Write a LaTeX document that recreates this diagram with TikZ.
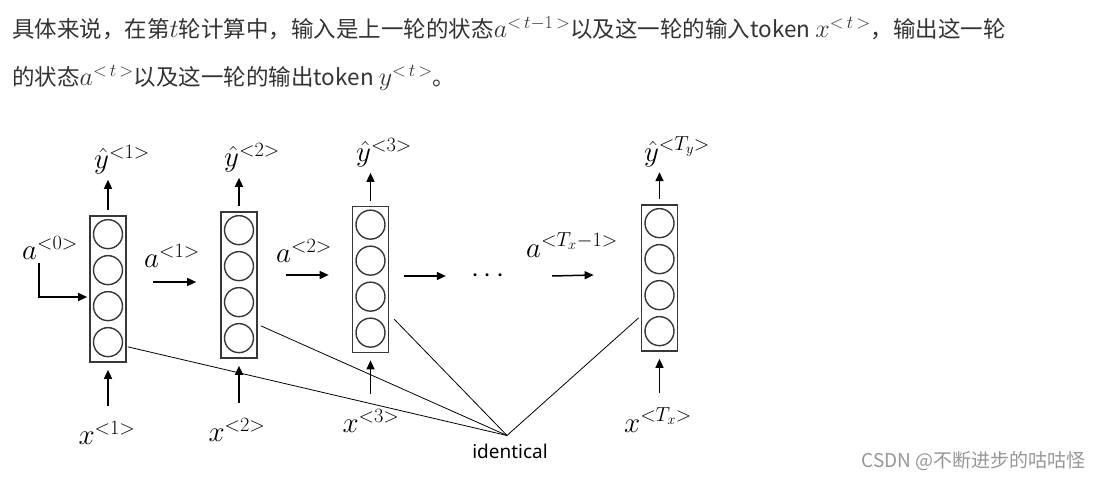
\RequirePackage{fix-cm}
\documentclass[tikz,border=0pt]{standalone}
\usepackage{fontspec}
\setmainfont{Noto Sans}
\newfontfamily\cjk{Noto Sans CJK SC}
\usetikzlibrary{arrows.meta, positioning, calc}
\definecolor{inkgray}{RGB}{55, 55, 55}
\definecolor{markgray}{RGB}{150, 150, 150}
\newcommand{\hm}[1]{{\fontsize{26}{28}\selectfont$#1$}}

\begin{document}
\begin{tikzpicture}[x=1pt, y=-1pt,
  every node/.style={inner sep=0pt},
  cell/.style={draw=inkgray, line width=1.7pt, minimum width=36pt, minimum height=146pt},
  unit/.style={circle, draw=inkgray, line width=1.4pt, minimum size=29pt},
  lbl/.style={font=\fontsize{29}{32}\selectfont},
  arr/.style={-{Triangle[length=9pt,width=8pt]}, line width=1.5pt},
  tie/.style={line width=0.8pt}]

  \useasboundingbox (0,0) rectangle (1101,481);

  % ---------- header text ----------
  \node[anchor=base west, font=\cjk\fontsize{22.5}{26}\selectfont, text=black!80] (line1) at (12,38)
    {具体来说，在第\hm{t}轮计算中，输入是上一轮的状态\hm{a^{<\,t-1\,>}}以及这一轮的输入token \hm{x^{<\,t\,>}}，输出这一轮};
  \node[anchor=base west, font=\cjk\fontsize{22.5}{26}\selectfont, text=black!80] (line2) at (12,86)
    {的状态\hm{a^{<\,t\,>}}以及这一轮的输出token \hm{y^{<\,t\,>}}。};

  % ---------- cells ----------
  \foreach \i/\x/\y in {1/108/289, 2/239/285, 3/370.5/279.5, 4/659.5/278}{
    \node[cell] (b\i) at (\x,\y) {};
    \foreach \k in {0,...,3}
      \node[unit] (b\i c\k) at ([yshift={-19-36*\k}]b\i.north) {};
  }

  % ---------- outputs ----------
  \node[lbl] (yh1) at (122,160) {$\hat{y}^{<1>}$};
  \node[lbl] (yh2) at (252,158) {$\hat{y}^{<2>}$};
  \node[lbl] (yh3) at (384,153) {$\hat{y}^{<3>}$};
  \node[lbl] (yh4) at (677,152) {$\hat{y}^{<T_y>}$};
  \foreach \i in {1,...,4}
    \draw[arr, shorten >=5pt] ([yshift=5pt]b\i.north) -- (b\i.north |- yh\i.south);

  % ---------- inputs ----------
  \node[lbl] (x1) at (107,433) {$x^{<1>}$};
  \node[lbl] (x2) at (237,430) {$x^{<2>}$};
  \node[lbl] (x3) at (371,421) {$x^{<3>}$};
  \node[lbl] (x4) at (658,420) {$x^{<T_x>}$};
  \foreach \i in {1,...,4}
    \draw[arr, shorten <=15pt] (b\i.south |- x\i.north) -- ([yshift=-7pt]b\i.south);

  % ---------- activations ----------
  \node[lbl] (a0) at (50,248) {$a^{<0>}$};
  \node[lbl] (a1) at (172,256) {$a^{<1>}$};
  \node[lbl] (a2) at (304,251) {$a^{<2>}$};
  \node[lbl] (a3) at (572,245) {$a^{<T_x-1>}$};
  \node[lbl] (dots) at (488,276) {$\cdots$};
  \draw[arr] ([xshift=-11pt,yshift=-3pt]a0.south) |- ([xshift=-2pt,yshift=-8pt]b1.west);
  \draw[arr] ([xshift=26pt,yshift=7pt]b1.east) -- ([xshift=-24pt,yshift=3pt]b2.west);
  \draw[arr] ([xshift=28pt,yshift=10pt]b2.east) -- ([xshift=-23pt,yshift=4.5pt]b3.west);
  \draw[arr] ([xshift=15pt,yshift=3.5pt]b3.east) -- ([xshift=-25pt]dots.west);
  \draw[arr] ([xshift=47pt]dots.east) -- ([xshift=-47pt,yshift=3pt]b4.west);

  % ---------- shared weights ----------
  \node[font=\fontsize{19}{22}\selectfont] (idn) at (510,451) {identical};
  \coordinate (meet) at ([xshift=-3pt,yshift=8pt]idn.north);
  \draw[tie] ([xshift=1pt,yshift=16pt]b1.south east) -- (meet);
  \draw[tie] ([xshift=3pt,yshift=33pt]b2.south east) -- (meet);
  \draw[tie] ([xshift=5pt,yshift=34pt]b3.south east) -- (meet);
  \draw[tie] ([xshift=-2pt,yshift=34pt]b4.south west) -- (meet);

  % ---------- watermark ----------
  \node[anchor=east, font=\cjk\fontsize{19}{22}\selectfont, text=markgray] (mark) at (1086,461) {CSDN @不断进步的咕咕怪};
\end{tikzpicture}
\end{document}
